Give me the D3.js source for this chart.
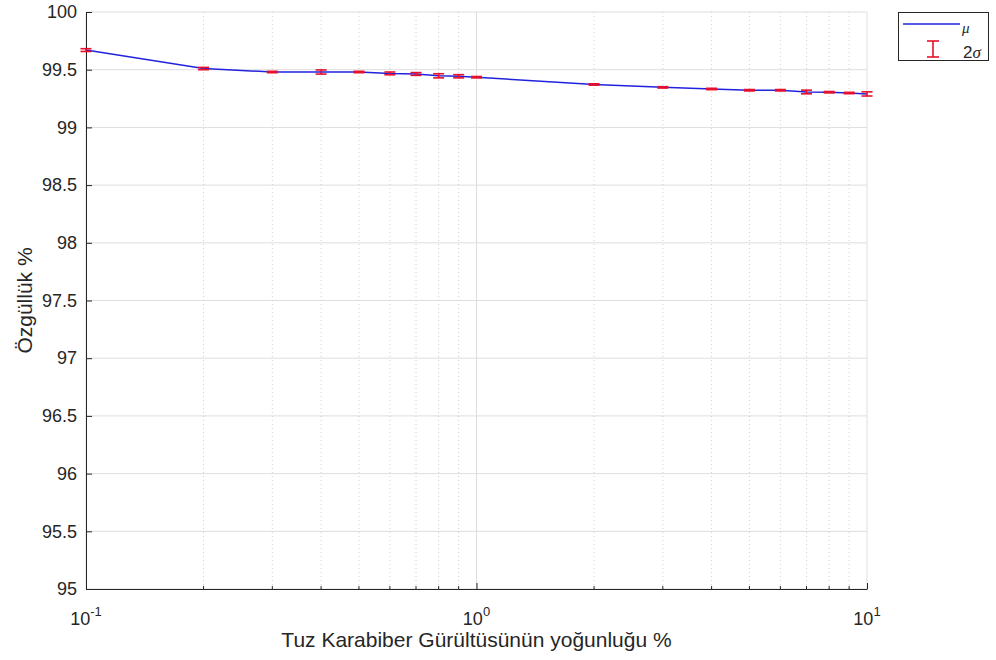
<!DOCTYPE html>
<html>
<head>
<meta charset="utf-8">
<script src="https://cdn.jsdelivr.net/npm/d3@7"></script>
<style>
  html, body { margin: 0; padding: 0; background: #fff; }
  svg { display: block; font-family: "Liberation Sans", Arial, sans-serif; }
</style>
</head>
<body>
<svg id="chart" width="996" height="660"></svg>
<script>
// Salt-and-pepper noise density (%) and specificity results
const density = [0.1, 0.2, 0.3, 0.4, 0.5, 0.6, 0.7, 0.8, 0.9, 1, 2, 3, 4, 5, 6, 7, 8, 9, 10];
const meanSpec = [99.67, 99.51, 99.48, 99.48, 99.48, 99.468, 99.463, 99.447, 99.443, 99.435, 99.372, 99.347, 99.333, 99.322, 99.322, 99.307, 99.305, 99.298, 99.29];
const sigma2 = [0.012, 0.01, 0.006, 0.018, 0.006, 0.012, 0.012, 0.018, 0.014, 0.006, 0.006, 0.006, 0.006, 0.006, 0.006, 0.016, 0.006, 0.006, 0.018];
const yTicks = [95, 95.5, 96, 96.5, 97, 97.5, 98, 98.5, 99, 99.5, 100];
const xMajor = [0.1, 1, 10];
const xMinor = [0.2, 0.3, 0.4, 0.5, 0.6, 0.7, 0.8, 0.9, 2, 3, 4, 5, 6, 7, 8, 9];
const xLabel = "Tuz Karabiber Gürültüsünün yoğunluğu %";
const yLabel = "Özgüllük %";

const svg = d3.select("#chart");
const L = 86, R = 867, T = 12, B = 589;
const x = d3.scaleLog().domain([0.1, 10]).range([L, R]);
const y = d3.scaleLinear().domain([95, 100]).range([B, T]);
const textCol = "#262626";
const lineCol = "#2222dd";
const errCol = "#e8102a";

// grid
const grid = svg.append("g");
grid.selectAll(".gy").data(yTicks).join("line")
  .attr("x1", L).attr("x2", R).attr("y1", d => y(d)).attr("y2", d => y(d))
  .attr("stroke", "#dedede").attr("stroke-width", 1);
grid.selectAll(".gx").data(xMajor).join("line")
  .attr("x1", d => x(d)).attr("x2", d => x(d)).attr("y1", T).attr("y2", B)
  .attr("stroke", "#dedede").attr("stroke-width", 1);
grid.selectAll(".gm").data(xMinor).join("line")
  .attr("x1", d => x(d)).attr("x2", d => x(d)).attr("y1", T).attr("y2", B)
  .attr("stroke", "#d0d0d0").attr("stroke-width", 1).attr("stroke-dasharray", "1,3");

// axes
const yAxis = d3.axisLeft(y).tickValues(yTicks).tickSizeInner(-6).tickSizeOuter(0)
  .tickPadding(9).tickFormat(d => String(d));
const gy = svg.append("g").attr("transform", `translate(${L},0)`).call(yAxis);
gy.select(".domain").attr("stroke", "#262626");
gy.selectAll(".tick line").attr("stroke", "#262626");
gy.selectAll(".tick text").attr("fill", textCol).attr("font-size", 18)
  .attr("font-family", "Liberation Sans, Arial, sans-serif");

const xAxis = d3.axisBottom(x).tickValues(xMajor).tickSizeInner(-6).tickSizeOuter(0).tickFormat("");
const gx = svg.append("g").attr("transform", `translate(0,${B})`).call(xAxis);
gx.select(".domain").attr("stroke", "#262626");
gx.selectAll(".tick line").attr("stroke", "#262626");
gx.selectAll(".minor").data(xMinor).join("line").attr("class", "minor")
  .attr("x1", d => x(d)).attr("x2", d => x(d)).attr("y1", 0).attr("y2", -3)
  .attr("stroke", "#262626");

// power-of-ten tick labels
const xl = svg.append("g");
xMajor.forEach(v => {
  const t = xl.append("text").attr("x", x(v)).attr("y", B + 36)
    .attr("text-anchor", "middle").attr("fill", textCol).attr("font-size", 18);
  t.append("tspan").text("10");
  t.append("tspan").attr("dy", -9).attr("font-size", 13).text(String(Math.round(Math.log10(v))));
});

// axis titles
svg.append("text").attr("x", (L + R) / 2).attr("y", 647).attr("text-anchor", "middle")
  .attr("fill", textCol).attr("font-size", 21).text(xLabel);
svg.append("text").attr("transform", `translate(32,${(T + B) / 2}) rotate(-90)`)
  .attr("text-anchor", "middle").attr("fill", textCol).attr("font-size", 21).text(yLabel);

// mean line
const line = d3.line().x(d => x(d[0])).y(d => y(d[1]));
svg.append("path").datum(density.map((d, i) => [d, meanSpec[i]]))
  .attr("d", line).attr("fill", "none").attr("stroke", lineCol).attr("stroke-width", 1.5);

// 2-sigma error bars
const eb = svg.append("g").attr("stroke", errCol).attr("stroke-width", 1.6);
density.forEach((d, i) => {
  const cx = x(d), y0 = y(meanSpec[i] - sigma2[i]), y1 = y(meanSpec[i] + sigma2[i]);
  eb.append("line").attr("x1", cx).attr("x2", cx).attr("y1", y0).attr("y2", y1);
  eb.append("line").attr("x1", cx - 5.5).attr("x2", cx + 5.5).attr("y1", y0).attr("y2", y0);
  eb.append("line").attr("x1", cx - 5.5).attr("x2", cx + 5.5).attr("y1", y1).attr("y2", y1);
});

// legend
const lg = svg.append("g");
lg.append("rect").attr("x", 898.5).attr("y", 12.5).attr("width", 90).attr("height", 48)
  .attr("fill", "#fff").attr("stroke", "#262626").attr("stroke-width", 1);
lg.append("line").attr("x1", 903).attr("x2", 960).attr("y1", 24).attr("y2", 24)
  .attr("stroke", lineCol).attr("stroke-width", 1.5);
lg.append("text").attr("x", 962).attr("y", 33).attr("font-size", 15).attr("font-style", "italic")
  .attr("font-family", "Liberation Serif, serif").attr("fill", textCol).text("μ");
const li = lg.append("g").attr("stroke", errCol).attr("stroke-width", 1.6);
li.append("line").attr("x1", 933).attr("x2", 933).attr("y1", 41).attr("y2", 57);
li.append("line").attr("x1", 927).attr("x2", 939).attr("y1", 41).attr("y2", 41);
li.append("line").attr("x1", 927).attr("x2", 939).attr("y1", 57).attr("y2", 57);
const sg = lg.append("text").attr("x", 963).attr("y", 58).attr("font-size", 17).attr("fill", textCol);
sg.append("tspan").text("2");
sg.append("tspan").attr("font-style", "italic").attr("font-family", "Liberation Serif, serif").text("σ");
</script>
</body>
</html>
